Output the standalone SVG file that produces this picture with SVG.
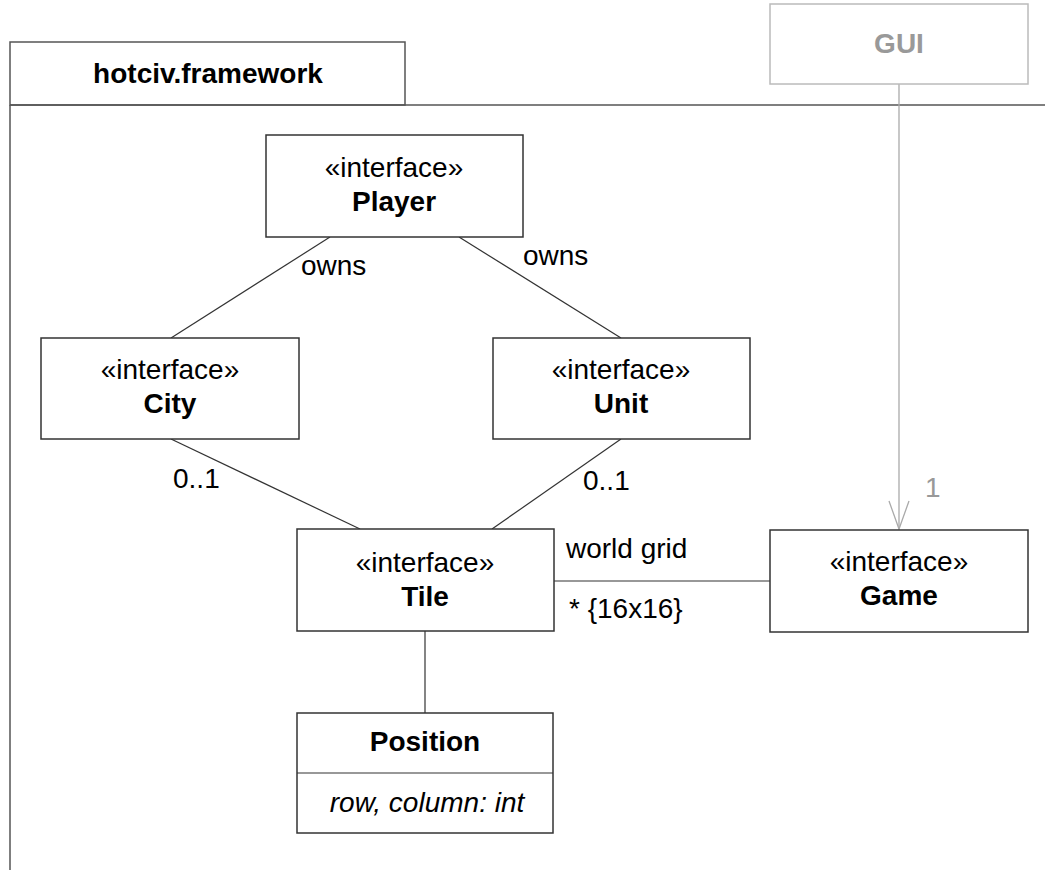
<svg xmlns="http://www.w3.org/2000/svg" width="1045" height="870" viewBox="0 0 1045 870">
<style>
  .box { fill: #ffffff; stroke: #333333; stroke-width: 1.5; }
  .pkg { fill: none; stroke: #555555; stroke-width: 1.5; }
  .t { font-family: "Liberation Sans", Arial, sans-serif; font-size: 28px; fill: #000000; }
  .c { text-anchor: middle; }
  .b { font-weight: bold; }
  .i { font-style: italic; }
  .line { stroke: #333333; stroke-width: 1.2; fill: none; }
  .gray { fill: #999999; }
</style>
<rect width="1045" height="870" fill="#ffffff"/>
<g id="package">
  <rect class="pkg" x="10" y="42" width="395" height="63"/>
  <path class="pkg" d="M10 105 H1045 M10 105 V870"/>
  <text class="t b c" x="208" y="83">hotciv.framework</text>
</g>
<g id="connectors">
  <line class="line" x1="330" y1="237" x2="171" y2="338"/>
  <line class="line" x1="459" y1="237" x2="621" y2="338"/>
  <line class="line" x1="171" y1="439" x2="360" y2="529"/>
  <line class="line" x1="621" y1="439" x2="492" y2="529"/>
  <line class="line" x1="554" y1="581" x2="770" y2="581"/>
  <line class="line" x1="425" y1="631" x2="425" y2="713"/>
  <line x1="899" y1="84" x2="899" y2="529" stroke="#aaaaaa" stroke-width="1.3"/>
  <polyline points="889,501 899,529 909,501" fill="none" stroke="#aaaaaa" stroke-width="1.3"/>
  <text class="t" x="301" y="275">owns</text>
  <text class="t" x="523" y="265">owns</text>
  <text class="t" x="173" y="488">0..1</text>
  <text class="t" x="583" y="490">0..1</text>
  <text class="t" x="566" y="558">world grid</text>
  <text class="t" x="569" y="618">* {16x16}</text>
  <text class="t gray" x="925" y="497">1</text>
</g>
<g id="gui">
  <rect x="770" y="4" width="258" height="80" fill="#ffffff" stroke="#bbbbbb" stroke-width="1.5"/>
  <text class="t b c gray" x="899" y="53">GUI</text>
</g>
<g id="player">
  <rect class="box" x="266" y="135" width="257" height="102"/>
  <text class="t c" x="394" y="177">«interface»</text>
  <text class="t b c" x="394" y="211">Player</text>
</g>
<g id="city">
  <rect class="box" x="41" y="338" width="258" height="101"/>
  <text class="t c" x="170" y="379">«interface»</text>
  <text class="t b c" x="170" y="413">City</text>
</g>
<g id="unit">
  <rect class="box" x="493" y="338" width="257" height="101"/>
  <text class="t c" x="621" y="379">«interface»</text>
  <text class="t b c" x="621" y="413">Unit</text>
</g>
<g id="tile">
  <rect class="box" x="297" y="529" width="257" height="102"/>
  <text class="t c" x="425" y="572">«interface»</text>
  <text class="t b c" x="425" y="606">Tile</text>
</g>
<g id="game">
  <rect class="box" x="770" y="530" width="258" height="102"/>
  <text class="t c" x="899" y="571">«interface»</text>
  <text class="t b c" x="899" y="605">Game</text>
</g>
<g id="position">
  <rect class="box" x="297" y="713" width="256" height="120"/>
  <line class="line" x1="297" y1="773" x2="553" y2="773"/>
  <text class="t b c" x="425" y="751">Position</text>
  <text class="t i c" x="427" y="812">row, column: int</text>
</g>
</svg>
